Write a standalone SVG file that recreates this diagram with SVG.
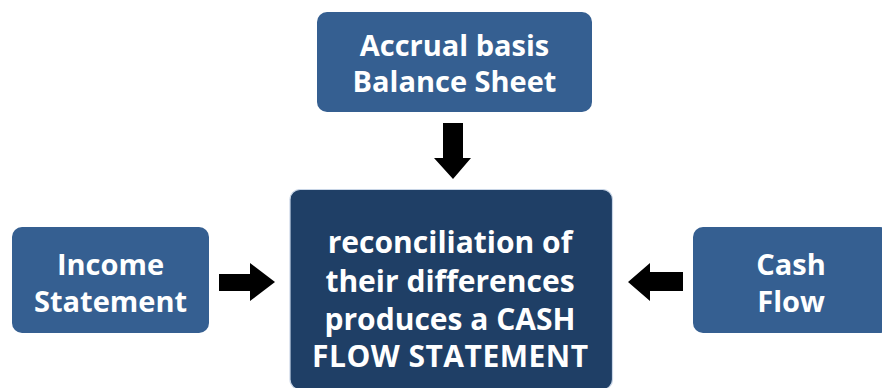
<svg xmlns="http://www.w3.org/2000/svg" width="882" height="388" viewBox="0 0 882 388">
<style>
.box{fill:#355f91}
.main{fill:#1f3f66;stroke:#c8d5e6;stroke-width:1.2}
.t{font-family:"Open Sans","Liberation Sans",sans-serif;font-weight:700;font-size:29px;fill:#ffffff;text-anchor:middle}
.c{font-size:30px}
.ar{fill:#000000}
</style>
<rect width="882" height="388" fill="#ffffff"/>
<g id="balance-sheet">
<rect class="box" x="317" y="12" width="275" height="100" rx="10"/>
<text class="t" x="454.5" y="56">Accrual basis</text>
<text class="t" x="454.5" y="92">Balance Sheet</text>
</g>
<g id="income-statement">
<rect class="box" x="12" y="227" width="197" height="106" rx="10"/>
<text class="t" x="110.5" y="275">Income</text>
<text class="t" x="110.5" y="312">Statement</text>
</g>
<g id="cash-flow">
<rect class="box" x="693" y="227" width="197" height="106" rx="10"/>
<text class="t" x="791" y="275">Cash</text>
<text class="t" x="791" y="312">Flow</text>
</g>
<g id="reconciliation">
<rect class="main" x="290" y="189.5" width="322.5" height="200" rx="10"/>
<text class="t c" x="450" y="253">reconciliation of</text>
<text class="t c" x="450" y="292">their differences</text>
<text class="t c" x="450" y="330">produces a CASH</text>
<text class="t c" x="450" y="367" textLength="276" lengthAdjust="spacing">FLOW STATEMENT</text>
</g>
<g id="connectors">
<polygon class="ar" points="443,123 463,123 463,158 471,158 453,179 434,158 443,158"/>
<polygon class="ar" points="219,274 250,274 250,263 275,282 250,301 250,291 219,291"/>
<polygon class="ar" points="683,272 650,272 650,263 628,282 650,301 650,291 683,291"/>
</g>
</svg>
